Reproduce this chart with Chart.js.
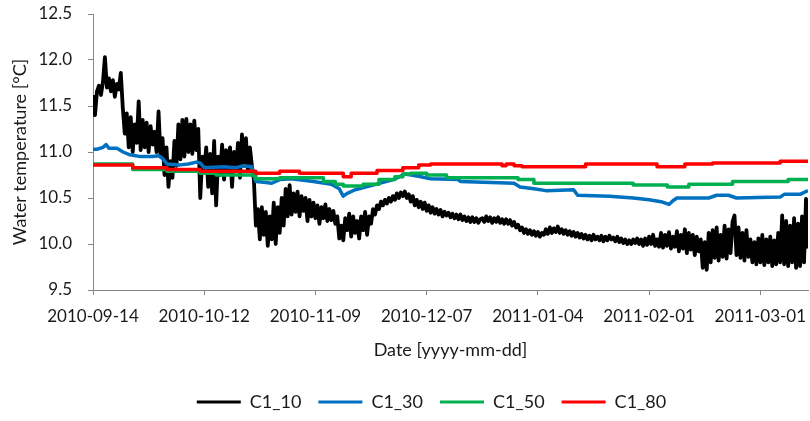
<!DOCTYPE html>
<html>
<head>
<meta charset="utf-8">
<script src="https://cdn.jsdelivr.net/npm/chart.js@4"></script>
<style>
  html, body { margin: 0; padding: 0; background: #fff; }
</style>
</head>
<body>
<canvas id="tempChart" width="810" height="421"></canvas>
<script>
// x axis is days since 2010-09-14
const tickDays = [0, 28, 56, 84, 112, 140, 168];
const tickLabels = ["2010-09-14", "2010-10-12", "2010-11-09", "2010-12-07", "2011-01-04", "2011-02-01", "2011-03-01"];
const yTicks = [9.5, 10.0, 10.5, 11.0, 11.5, 12.0, 12.5];

// C1_10 is sampled every half day, starting on day 0
const c10Step = 0.5;
const c10Values = [
  11.62, 11.40, 11.66, 11.72, 11.62, 11.76, 12.03, 11.70, 11.80, 11.66, // d0
  11.78, 11.60, 11.74, 11.68, 11.86, 11.48, 11.20, 11.42, 11.05, 11.38, // d5
  11.00, 11.30, 11.10, 11.55, 11.02, 11.35, 11.05, 11.32, 11.00, 11.28, // d10
  11.08, 11.22, 11.00, 11.44, 10.95, 11.15, 10.75, 11.05, 10.62, 10.90, // d15
  10.72, 11.12, 10.85, 11.30, 10.92, 11.35, 10.95, 11.36, 11.00, 11.30, // d20
  10.98, 11.34, 11.02, 11.25, 10.50, 10.95, 10.80, 11.05, 10.62, 10.98, // d25
  10.55, 11.12, 10.42, 10.95, 10.75, 11.08, 10.70, 11.02, 10.78, 11.05, // d30
  10.62, 11.00, 10.80, 11.10, 10.72, 11.19, 10.85, 11.15, 10.80, 11.05, // d35
  10.85, 10.70, 10.20, 10.38, 10.05, 10.40, 10.10, 10.35, 9.98, 10.30,  // d40
  10.05, 10.45, 10.00, 10.40, 10.12, 10.50, 10.20, 10.60, 10.30, 10.64, // d45
  10.32, 10.55, 10.35, 10.57, 10.30, 10.52, 10.36, 10.50, 10.25, 10.48, // d50
  10.30, 10.45, 10.28, 10.42, 10.22, 10.40, 10.28, 10.43, 10.25, 10.38, // d55
  10.26, 10.36, 10.22, 10.30, 10.06, 10.20, 10.04, 10.28, 10.15, 10.33, // d60
  10.08, 10.30, 10.12, 10.25, 10.06, 10.30, 10.15, 10.35, 10.10, 10.30, // d65
  10.22, 10.38, 10.32, 10.42, 10.38, 10.46, 10.42, 10.48, 10.44, 10.50, // d70
  10.46, 10.52, 10.48, 10.55, 10.50, 10.56, 10.52, 10.57, 10.50, 10.54, // d75
  10.46, 10.52, 10.42, 10.48, 10.40, 10.46, 10.38, 10.45, 10.36, 10.42, // d80
  10.34, 10.40, 10.33, 10.38, 10.32, 10.37, 10.30, 10.35, 10.31, 10.34, // d85
  10.29, 10.33, 10.28, 10.32, 10.27, 10.32, 10.26, 10.30, 10.25, 10.29, // d90
  10.24, 10.29, 10.24, 10.28, 10.23, 10.27, 10.28, 10.24, 10.30, 10.25, // d95
  10.29, 10.23, 10.28, 10.24, 10.29, 10.23, 10.27, 10.22, 10.27, 10.22, // d100
  10.26, 10.20, 10.24, 10.18, 10.21, 10.15, 10.18, 10.12, 10.16, 10.11, // d105
  10.15, 10.10, 10.14, 10.09, 10.13, 10.08, 10.12, 10.10, 10.16, 10.11, // d110
  10.18, 10.12, 10.17, 10.13, 10.19, 10.12, 10.16, 10.11, 10.15, 10.10, // d115
  10.14, 10.09, 10.13, 10.08, 10.12, 10.07, 10.11, 10.06, 10.10, 10.05, // d120
  10.09, 10.04, 10.10, 10.05, 10.08, 10.04, 10.09, 10.03, 10.08, 10.04, // d125
  10.09, 10.05, 10.07, 10.03, 10.08, 10.02, 10.06, 10.01, 10.05, 10.00, // d130
  10.04, 10.00, 10.05, 10.01, 10.06, 10.00, 10.05, 9.98, 10.06, 9.99,   // d135
  10.08, 10.00, 10.10, 9.98, 10.05, 9.97, 10.12, 9.96, 10.10, 9.98,     // d140
  10.13, 9.95, 10.08, 9.97, 10.14, 9.92, 10.10, 9.95, 10.16, 9.90,      // d145
  10.12, 9.94, 10.10, 9.88, 10.08, 9.92, 10.05, 9.74, 10.02, 9.72,      // d150
  10.12, 9.80, 10.15, 9.85, 10.18, 9.82, 10.10, 9.86, 10.20, 9.84,      // d155
  10.16, 9.90, 10.24, 10.31, 9.88, 10.18, 9.85, 10.12, 9.82, 10.15,     // d160
  9.86, 10.05, 9.80, 10.02, 9.78, 10.06, 9.80, 10.10, 9.77, 10.05,      // d165
  9.80, 10.08, 9.76, 10.04, 9.78, 10.12, 9.80, 10.31, 9.78, 10.25,      // d170
  9.76, 10.20, 9.80, 10.28, 9.74, 10.22, 9.76, 10.30, 9.80, 10.49,      // d175
  9.95                                                                  // d180
];

const c30Days = [0, 1, 2.5, 3.3, 4, 6, 7.6, 9.3, 12, 15, 16.5, 17.5, 18.6, 22, 24, 26, 27, 28, 33, 36, 38, 40, 40.5, 41, 43, 45, 47, 50, 55.5, 60, 62, 63, 64, 66, 70.5, 75.6, 78.5, 81.6, 85, 92, 92.5, 106, 107.5, 111, 114, 121, 122, 130, 136, 140, 143, 145, 146, 147, 155, 157, 160, 162, 173, 174, 178, 180];
const c30Values = [11.03, 11.03, 11.05, 11.08, 11.04, 11.04, 11.00, 10.97, 10.95, 10.95, 10.96, 10.93, 10.87, 10.86, 10.87, 10.89, 10.88, 10.83, 10.84, 10.83, 10.85, 10.84, 10.74, 10.68, 10.67, 10.66, 10.70, 10.71, 10.68, 10.65, 10.60, 10.52, 10.55, 10.59, 10.64, 10.70, 10.76, 10.74, 10.71, 10.70, 10.68, 10.66, 10.62, 10.60, 10.58, 10.59, 10.53, 10.52, 10.50, 10.48, 10.46, 10.43, 10.47, 10.50, 10.50, 10.53, 10.53, 10.50, 10.51, 10.54, 10.54, 10.58];

const c50Days = [0, 10, 18.6, 27, 31, 41, 47, 58, 61, 63, 68, 72, 76, 78, 80, 84, 89, 107, 111, 136, 144.6, 150, 161, 175, 180];
const c50Values = [10.87, 10.81, 10.79, 10.77, 10.75, 10.71, 10.72, 10.68, 10.65, 10.63, 10.65, 10.70, 10.73, 10.76, 10.77, 10.75, 10.72, 10.70, 10.66, 10.64, 10.62, 10.65, 10.68, 10.70, 10.70];

const c80Days = [0, 10, 18.6, 27, 41, 47, 52, 63, 65, 71.5, 78, 82, 85, 103, 104, 106, 108, 124, 142, 149, 156, 173, 180];
const c80Values = [10.86, 10.83, 10.81, 10.79, 10.77, 10.79, 10.77, 10.73, 10.77, 10.80, 10.83, 10.86, 10.87, 10.85, 10.87, 10.85, 10.84, 10.87, 10.84, 10.87, 10.88, 10.90, 10.90];

const textColor = "#1a1a1a";
const axisColor = "#868686";
const tickFont = { family: "Lato", size: 17 };
const titleFont = { family: "Lato", size: 18 };

function pairUp(days, values) {
    return values.map((v, i) => ({ x: days[i], y: v }));
}

let c10Points = c10Values.map((v, i) => ({ x: i * c10Step, y: v }));

// move the legend to the right, it sits under the plot area not the canvas
const legendShift = {
    id: "legendShift",
    afterLayout(chart) {
        chart.legend.left += 55;
    }
};

// order: black drawn first, red ends up on top
new Chart(document.getElementById("tempChart").getContext("2d"), {
    type: "line",
    data: {
        datasets: [
            { label: "C1_10", data: c10Points, borderColor: "#000000", backgroundColor: "#000000", borderWidth: 3.8, order: 3 },
            { label: "C1_30", data: pairUp(c30Days, c30Values), borderColor: "#0070C0", backgroundColor: "#0070C0", borderWidth: 3.5, order: 2 },
            { label: "C1_50", data: pairUp(c50Days, c50Values), borderColor: "#00B050", backgroundColor: "#00B050", borderWidth: 3.5, stepped: true, order: 1 },
            { label: "C1_80", data: pairUp(c80Days, c80Values), borderColor: "#FF0000", backgroundColor: "#FF0000", borderWidth: 3.5, stepped: true, order: 0 }
        ]
    },
    plugins: [legendShift],
    options: {
        responsive: false,
        animation: false,
        elements: { point: { radius: 0 }, line: { tension: 0, borderJoinStyle: "round" } },
        layout: { padding: { top: 3, right: 2, left: 0, bottom: 0 } },
        plugins: {
            tooltip: { enabled: false },
            legend: {
                position: "bottom",
                labels: {
                    boxWidth: 44,
                    boxHeight: 3,
                    padding: 17,
                    color: textColor,
                    font: titleFont,
                    generateLabels: chart => Chart.defaults.plugins.legend.labels.generateLabels(chart)
                        .map(item => ({ ...item, lineWidth: 0 }))
                        .sort((a, b) => a.datasetIndex - b.datasetIndex)
                }
            }
        },
        scales: {
            x: {
                type: "linear",
                min: 0,
                max: 180,
                afterBuildTicks: scale => { scale.ticks = tickDays.map(d => ({ value: d })); },
                afterFit: scale => {
                    scale.height = 86;
                    scale.paddingLeft = 0;
                    scale.paddingRight = 0;
                },
                ticks: {
                    autoSkip: false,
                    maxRotation: 0,
                    padding: 11,
                    color: textColor,
                    font: tickFont,
                    callback: v => tickLabels[tickDays.indexOf(v)] || ""
                },
                grid: { drawOnChartArea: false, tickLength: 5, color: axisColor },
                border: { color: axisColor },
                title: { display: true, text: "Date [yyyy-mm-dd]", color: textColor, font: titleFont, padding: { top: 6, bottom: 15 } }
            },
            y: {
                min: 9.5,
                max: 12.5,
                afterBuildTicks: scale => { scale.ticks = yTicks.map(v => ({ value: v })); },
                afterFit: scale => {
                    scale.width = 93;
                    scale.paddingTop = 14;
                    scale.paddingBottom = 0;
                },
                ticks: {
                    padding: 16,
                    color: textColor,
                    font: tickFont,
                    callback: v => v.toFixed(1)
                },
                grid: { drawOnChartArea: false, tickLength: 5, color: axisColor },
                border: { color: axisColor },
                title: { display: true, text: "Water temperature [°C]", color: textColor, font: titleFont, padding: { top: 9, bottom: 0 } }
            }
        }
    }
});
</script>
</body>
</html>
